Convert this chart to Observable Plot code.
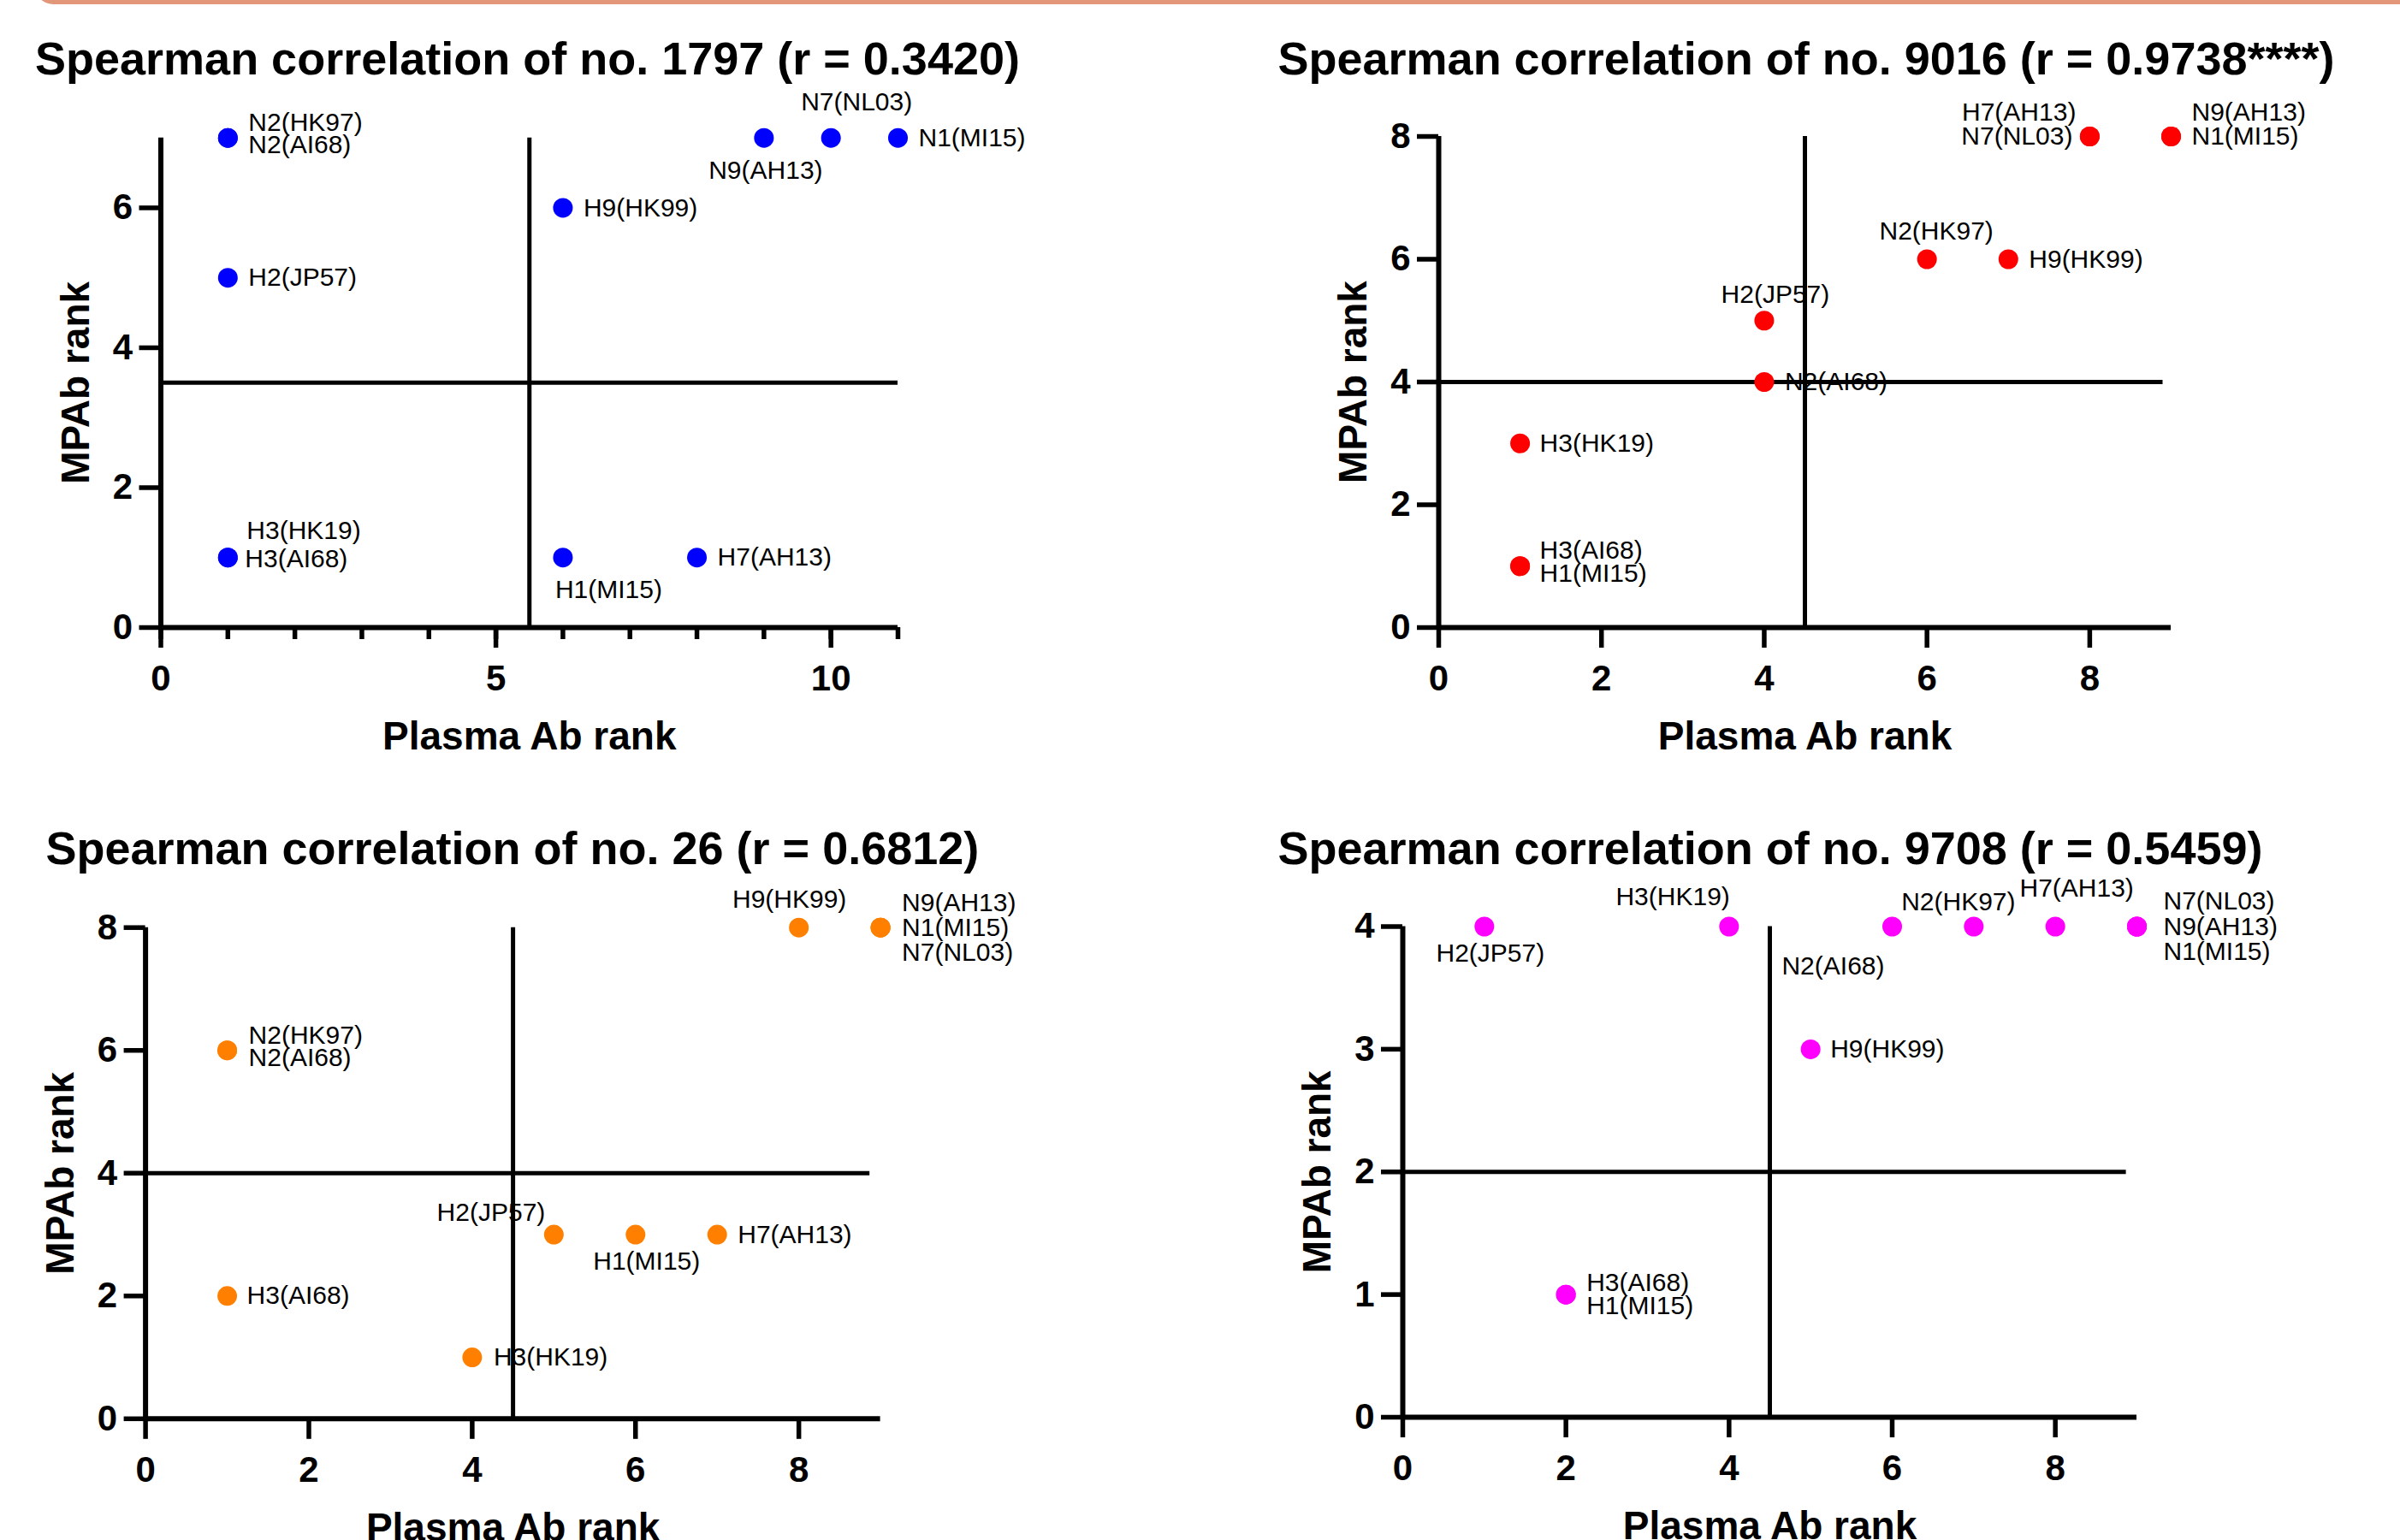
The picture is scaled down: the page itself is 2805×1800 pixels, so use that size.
<!DOCTYPE html>
<html>
<head>
<meta charset="utf-8">
<script src="https://cdn.jsdelivr.net/npm/d3@7"></script>
<script src="https://cdn.jsdelivr.net/npm/@observablehq/plot@0.6"></script>
<style>
  html, body { margin: 0; padding: 0; background: #fff; }
  body { width: 2805px; height: 1800px; position: relative; overflow: hidden; font-family: "Liberation Sans", Arial, Helvetica, sans-serif; }
  .band { position: absolute; left: 40px; top: -40px; width: 2900px; height: 45px; background: #E2977A; border-radius: 40px; }
  .title { position: absolute; font-size: 54px; font-weight: bold; line-height: 1; white-space: nowrap; color: #000; }
  .panel { position: absolute; }
</style>
</head>
<body>
<div class="band"></div>
<script>
// ---------- DATA ----------
const xLabel = "Plasma Ab rank";
const yLabel = "MPAb rank";

// Panel 1: no. 1797
const p1Title = "Spearman correlation of no. 1797 (r = 0.3420)";
const p1Names = ["N2(HK97)", "N2(AI68)", "H2(JP57)", "H3(HK19)", "H3(AI68)", "H9(HK99)", "H1(MI15)", "H7(AH13)", "N9(AH13)", "N7(NL03)", "N1(MI15)"];
const p1X = [1, 1, 1, 1, 1, 6, 6, 8, 9, 10, 11];
const p1Y = [7, 7, 5, 1, 1, 6, 1, 1, 7, 7, 7];
const p1XDomain = [0, 11];
const p1YDomain = [0, 7];
const p1XTicks = [0, 5, 10];
const p1XMinorTicks = [0, 1, 2, 3, 4, 5, 6, 7, 8, 9, 10, 11];
const p1YTicks = [0, 2, 4, 6];
const p1CutX = 5.5, p1CutY = 3.5, p1HEnd = 11, p1VEnd = 7;

// Panel 2: no. 9016
const p2Title = "Spearman correlation of no. 9016 (r = 0.9738****)";
const p2Names = ["H3(AI68)", "H1(MI15)", "H3(HK19)", "N2(AI68)", "H2(JP57)", "N2(HK97)", "H9(HK99)", "H7(AH13)", "N7(NL03)", "N9(AH13)", "N1(MI15)"];
const p2X = [1, 1, 1, 4, 4, 6, 7, 8, 8, 9, 9];
const p2Y = [1, 1, 3, 4, 5, 6, 6, 8, 8, 8, 8];
const p2XDomain = [0, 9];
const p2YDomain = [0, 8];
const p2XTicks = [0, 2, 4, 6, 8];
const p2YTicks = [0, 2, 4, 6, 8];
const p2CutX = 4.5, p2CutY = 4, p2HEnd = 8.9, p2VEnd = 8;

// Panel 3: no. 26
const p3Title = "Spearman correlation of no. 26 (r = 0.6812)";
const p3Names = ["N2(HK97)", "N2(AI68)", "H3(AI68)", "H3(HK19)", "H2(JP57)", "H1(MI15)", "H7(AH13)", "H9(HK99)", "N9(AH13)", "N1(MI15)", "N7(NL03)"];
const p3X = [1, 1, 1, 4, 5, 6, 7, 8, 9, 9, 9];
const p3Y = [6, 6, 2, 1, 3, 3, 3, 8, 8, 8, 8];
const p3XDomain = [0, 9];
const p3YDomain = [0, 8];
const p3XTicks = [0, 2, 4, 6, 8];
const p3YTicks = [0, 2, 4, 6, 8];
const p3CutX = 4.5, p3CutY = 4, p3HEnd = 8.87, p3VEnd = 8;

// Panel 4: no. 9708
const p4Title = "Spearman correlation of no. 9708 (r = 0.5459)";
const p4Names = ["H2(JP57)", "H3(HK19)", "N2(AI68)", "N2(HK97)", "H7(AH13)", "N7(NL03)", "N9(AH13)", "N1(MI15)", "H9(HK99)", "H3(AI68)", "H1(MI15)"];
const p4X = [1, 4, 6, 7, 8, 9, 9, 9, 5, 2, 2];
const p4Y = [4, 4, 4, 4, 4, 4, 4, 4, 3, 1, 1];
const p4XDomain = [0, 9];
const p4YDomain = [0, 4];
const p4XTicks = [0, 2, 4, 6, 8];
const p4YTicks = [0, 1, 2, 3, 4];
const p4CutX = 4.5, p4CutY = 2, p4HEnd = 8.87, p4VEnd = 4;

// ---------- LAYOUT (positions / styles) ----------
const layouts = [
  { left: 0, top: 100, width: 1400, height: 800, ml: 187.5, mr: 351, mt: 60.7, mb: 167,
    color: "#0000FF", titleLeft: 41, titleTop: 41,
    lab: [["start",24,-18],["start",24,8],["start",24,0],["start",22,-31],["start",20,2],["start",24,0],["start",-9,38],["start",24,0],["middle",2,38],["middle",30,-42],["start",24,0]] },
  { left: 1400, top: 100, width: 1405, height: 800, ml: 281, mr: 268, mt: 59, mb: 167,
    color: "#FF0000", titleLeft: 1493.5, titleTop: 41,
    lab: [["start",23,-18],["start",23,9],["start",23,0],["start",24,0],["middle",13,-30],["middle",11,-33],["start",24,0],["end",-16,-28],["end",-20,0],["start",24,-28],["start",24,0]] },
  { left: 0, top: 1020, width: 1400, height: 780, ml: 169.6, mr: 371.4, mt: 63.7, mb: 142.2,
    color: "#FF8000", titleLeft: 53.4, titleTop: 964,
    lab: [["start",25,-17],["start",25,9],["start",23,0],["start",25,0],["end",-10,-26],["middle",13,31],["start",24,0],["middle",-11,-33],["start",25,-29],["start",25,0],["start",25,29]] },
  { left: 1400, top: 1020, width: 1405, height: 780, ml: 239, mr: 308, mt: 62.5, mb: 144,
    color: "#FF00FF", titleLeft: 1493.5, titleTop: 964,
    lab: [["middle",7,31],["end",1,-35],["end",-9,46],["middle",-18,-29],["middle",25,-45],["start",31,-30],["start",31,0],["start",31,29],["start",23,0],["start",24,-14],["start",24,13]] }
];

const panels = [
  { title: p1Title, names: p1Names, x: p1X, y: p1Y, xDomain: p1XDomain, yDomain: p1YDomain, xTicks: p1XTicks, xMinor: p1XMinorTicks, yTicks: p1YTicks, cutX: p1CutX, cutY: p1CutY, hEnd: p1HEnd, vEnd: p1VEnd },
  { title: p2Title, names: p2Names, x: p2X, y: p2Y, xDomain: p2XDomain, yDomain: p2YDomain, xTicks: p2XTicks, xMinor: null, yTicks: p2YTicks, cutX: p2CutX, cutY: p2CutY, hEnd: p2HEnd, vEnd: p2VEnd },
  { title: p3Title, names: p3Names, x: p3X, y: p3Y, xDomain: p3XDomain, yDomain: p3YDomain, xTicks: p3XTicks, xMinor: null, yTicks: p3YTicks, cutX: p3CutX, cutY: p3CutY, hEnd: p3HEnd, vEnd: p3VEnd },
  { title: p4Title, names: p4Names, x: p4X, y: p4Y, xDomain: p4XDomain, yDomain: p4YDomain, xTicks: p4XTicks, xMinor: null, yTicks: p4YTicks, cutX: p4CutX, cutY: p4CutY, hEnd: p4HEnd, vEnd: p4VEnd }
];

const FONT = "'Liberation Sans', Arial, Helvetica, sans-serif";

function drawPanel(d, L) {
  const rows = d.names.map((n, i) => ({ n, x: d.x[i], y: d.y[i] }));
  const marks = [];
  // reference (quadrant) lines
  marks.push(Plot.ruleY([d.cutY], { x1: d.xDomain[0], x2: d.hEnd, stroke: "#000", strokeWidth: 5 }));
  marks.push(Plot.ruleX([d.cutX], { y1: d.yDomain[0], y2: d.vEnd, stroke: "#000", strokeWidth: 5 }));
  // axes lines
  marks.push(Plot.ruleY([d.yDomain[0]], { x1: d.xDomain[0], x2: d.xDomain[1], stroke: "#000", strokeWidth: 6 }));
  marks.push(Plot.ruleX([d.xDomain[0]], { y1: d.yDomain[0], y2: d.yDomain[1], stroke: "#000", strokeWidth: 6 }));
  if (d.xMinor) {
    marks.push(Plot.axisX({ ticks: d.xMinor, tickSize: 14, tickFormat: () => "", strokeWidth: 5.5, stroke: "#000", label: null }));
  }
  marks.push(Plot.axisX({ ticks: d.xTicks, tickSize: 24, tickPadding: 20, tickFormat: d3.format("d"), fontSize: 42, fontWeight: "bold", strokeWidth: 5.5, stroke: "#000", fill: "#000", label: null }));
  marks.push(Plot.axisY({ ticks: d.yTicks, tickSize: 25, tickPadding: 8, tickFormat: d3.format("d"), fontSize: 42, fontWeight: "bold", strokeWidth: 5.5, stroke: "#000", fill: "#000", label: null }));
  // axis titles
  marks.push(Plot.text([xLabel], { text: (t) => t, frameAnchor: "bottom", textAnchor: "middle", dy: 128, lineAnchor: "middle", fontSize: 46, fontWeight: "bold", fill: "#000" }));
  marks.push(Plot.text([yLabel], { text: (t) => t, frameAnchor: "left", textAnchor: "middle", dx: -99, rotate: -90, lineAnchor: "middle", fontSize: 46, fontWeight: "bold", fill: "#000" }));
  // points
  marks.push(Plot.dot(rows, { x: "x", y: "y", r: 11.5, fill: L.color, stroke: "none" }));
  // labels
  rows.forEach((r, i) => {
    const [anchor, dx, dy] = L.lab[i];
    marks.push(Plot.text([r], { x: "x", y: "y", text: "n", textAnchor: anchor, dx, dy, lineAnchor: "middle", fontSize: 30, fill: "#000" }));
  });

  const chart = Plot.plot({
    width: L.width,
    height: L.height,
    marginLeft: L.ml, marginRight: L.mr, marginTop: L.mt, marginBottom: L.mb,
    x: { domain: d.xDomain, range: [L.ml, L.width - L.mr] },
    y: { domain: d.yDomain, range: [L.height - L.mb, L.mt] },
    style: { fontFamily: FONT, color: "#000", background: "transparent", overflow: "visible", maxWidth: "none" },
    marks
  });
  const wrap = document.createElement("div");
  wrap.className = "panel";
  wrap.style.left = L.left + "px";
  wrap.style.top = L.top + "px";
  wrap.appendChild(chart);
  document.body.appendChild(wrap);

  const t = document.createElement("div");
  t.className = "title";
  t.style.left = L.titleLeft + "px";
  t.style.top = L.titleTop + "px";
  t.textContent = d.title;
  document.body.appendChild(t);
}

panels.forEach((p, i) => drawPanel(p, layouts[i]));
</script>
</body>
</html>
